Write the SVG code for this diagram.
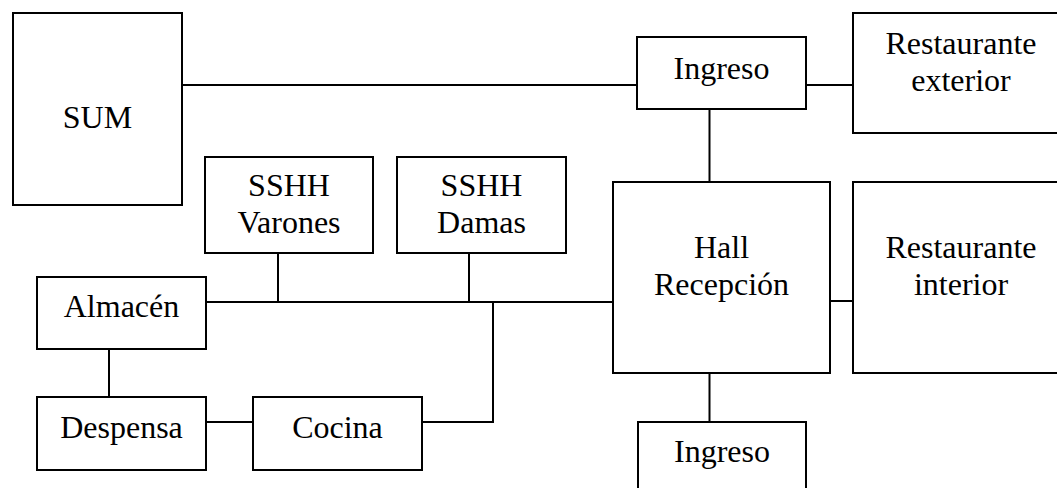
<svg xmlns="http://www.w3.org/2000/svg" width="1057" height="488" viewBox="0 0 1057 488">
<style>
.box{fill:#fff;stroke:#000;stroke-width:2}
.lbl{font-family:'Liberation Serif','Tinos','DejaVu Serif','Noto Serif',serif;font-size:32px;fill:#000;text-anchor:middle}
.conn{fill:none;stroke:#000;stroke-width:2}
</style>
<rect width="1057" height="488" fill="#fff"/>
<g id="connectors" class="conn">
<path d="M182 85H637"/>
<path d="M806 85H853"/>
<path d="M709.5 109V182"/>
<path d="M830 301H853"/>
<path d="M709.5 373V422"/>
<path d="M206 302H613"/>
<path d="M278 253V302"/>
<path d="M469 253V302"/>
<path d="M493 302V422H422"/>
<path d="M109 349V397"/>
<path d="M206 422H253"/>
</g>
<g id="sum"><rect class="box" x="13" y="13" width="169" height="192"/><text class="lbl" x="97.5" y="128">SUM</text></g>
<g id="ingreso-top"><rect class="box" x="637" y="37" width="169" height="72"/><text class="lbl" x="721.5" y="79">Ingreso</text></g>
<g id="rest-ext"><rect class="box" x="853" y="13" width="216" height="120"/><text class="lbl" x="961" y="54">Restaurante</text><text class="lbl" x="961" y="91">exterior</text></g>
<g id="sshh-varones"><rect class="box" x="205" y="157" width="168" height="96"/><text class="lbl" x="289" y="196">SSHH</text><text class="lbl" x="289" y="233">Varones</text></g>
<g id="sshh-damas"><rect class="box" x="397" y="157" width="169" height="96"/><text class="lbl" x="481.5" y="196">SSHH</text><text class="lbl" x="481.5" y="233">Damas</text></g>
<g id="hall"><rect class="box" x="613" y="182" width="217" height="191"/><text class="lbl" x="721.5" y="258">Hall</text><text class="lbl" x="721.5" y="295">Recepción</text></g>
<g id="rest-int"><rect class="box" x="853" y="182" width="216" height="191"/><text class="lbl" x="961" y="258">Restaurante</text><text class="lbl" x="961" y="295">interior</text></g>
<g id="almacen"><rect class="box" x="37" y="277" width="169" height="72"/><text class="lbl" x="121.5" y="317">Almacén</text></g>
<g id="despensa"><rect class="box" x="37" y="397" width="169" height="73"/><text class="lbl" x="121.5" y="438">Despensa</text></g>
<g id="cocina"><rect class="box" x="253" y="397" width="169" height="73"/><text class="lbl" x="337.5" y="438">Cocina</text></g>
<g id="ingreso-bottom"><rect class="box" x="638" y="422" width="168" height="80"/><text class="lbl" x="722" y="462">Ingreso</text></g>
</svg>
